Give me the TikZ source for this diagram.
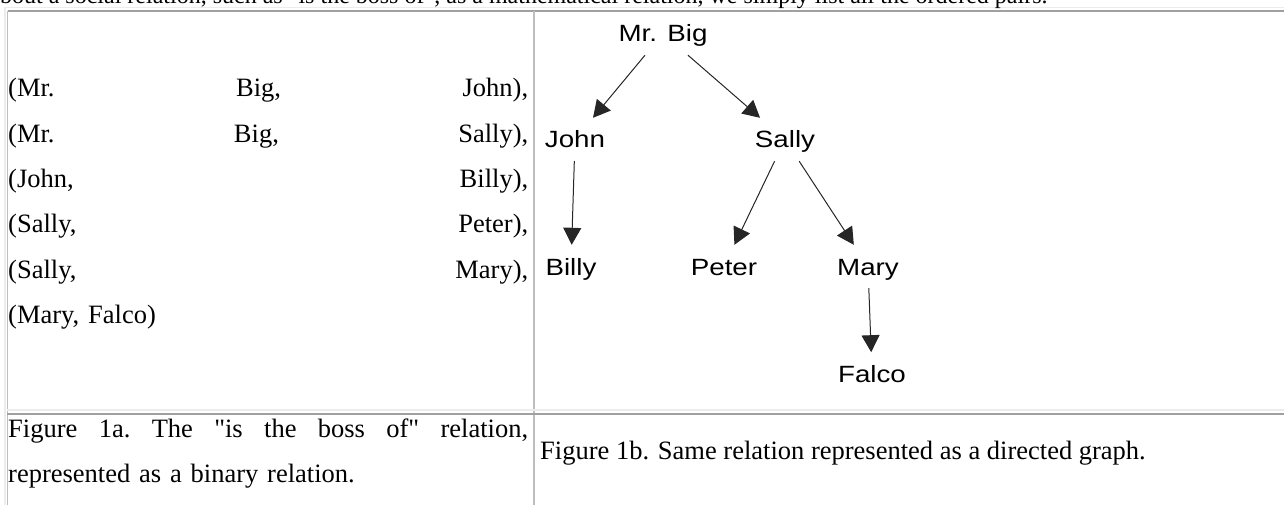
\documentclass[tikz,border=0pt]{standalone}
\usepackage{fontspec}
\setmainfont{Liberation Serif}[Ligatures=TeXOff]
\newfontfamily\graphfont[FakeStretch=1.18]{Liberation Sans}
\usetikzlibrary{arrows.meta,positioning}
\definecolor{BorderDark}{HTML}{A0A0A0}
\definecolor{BorderMid}{HTML}{BEBEBE}
\definecolor{BorderLight}{HTML}{ECECEC}
\tikzset{
  Name/.style  = {inner xsep=4pt, inner ysep=8pt, text height=22pt, text depth=5pt,
                  anchor=base, font=\graphfont\fontsize{23.5}{24}\selectfont},
  Boss/.style  = {draw=black!85, line width=1pt, -{Triangle[length=17pt,width=18pt]}},
  Cell/.style  = {anchor=base west, inner sep=0pt, text width=520pt, align=left,
                  font=\fontsize{26.5}{45.3}\selectfont},
  Rule/.style  = {BorderDark, line width=2pt},
  Frame/.style = {BorderLight, line width=1.5pt},
}

\begin{document}
\begin{tikzpicture}[x=1pt, y=-1pt]
    \useasboundingbox (0,0) rectangle (1284,505);

    % table borders
    \draw[Frame] (5,7.5) -- (1284,7.5);
    \draw[Frame] (5,7.5) -- (5,505);
    \draw[Rule]  (7.5,11) -- (1284,11);
    \draw[BorderMid, line width=1.5pt] (7.5,11) -- (7.5,505);
    \draw[BorderMid, line width=1.5pt] (534,11) -- (534,505);
    \draw[Frame] (7,410) -- (1284,410);
    \draw[Rule]  (7,413.5) -- (1284,413.5);

    % text cut at the top
    \node[anchor=base west, inner sep=0pt, font=\fontsize{24}{28}\selectfont] (intro) at (-10.7,4)
        {about a social relation, such as "is the boss of", as a mathematical relation, we simply list all the ordered pairs.};

    % left cell: the ordered pairs
    \node[Cell] (pairs) at (8,97)
        {(Mr.\hfill Big,\hfill John),\\
         (Mr.\hfill Big,\hfill Sally),\\
         (John,\hfill Billy),\\
         (Sally,\hfill Peter),\\
         (Sally,\hfill Mary),\\
         (Mary, Falco)};

    % right cell: the graph
    \node[Name] (mrbig) at (663,42)  {Mr. Big};
    \node[Name] (john)  at (575,148) {John};
    \node[Name] (sally) at (785,148) {Sally};
    \node[Name] (billy) at (571,275) {Billy};
    \node[Name] (peter) at (724,275) {Peter};
    \node[Name] (mary)  at (868,275) {Mary};
    \node[Name] (falco) [below=64pt of mary, xshift=4pt] {Falco};
    \draw[Boss] (mrbig) -- (john);
    \draw[Boss] (mrbig) -- (sally);
    \draw[Boss] (john)  -- (billy);
    \draw[Boss] (sally) -- (peter);
    \draw[Boss] (sally) -- (mary);
    \draw[Boss] (mary)  -- (falco);

    % captions
    \node[Cell] (captiona) at (8,437)
        {Figure\hfill 1a.\hfill The\hfill "is\hfill the\hfill boss\hfill of"\hfill relation,\\
         represented as a binary relation.};
    \node[anchor=base west, inner sep=0pt, font=\fontsize{26.5}{30}\selectfont] (captionb) at (540,459)
        {Figure 1b. Same relation represented as a directed graph.};
\end{tikzpicture}
\end{document}
